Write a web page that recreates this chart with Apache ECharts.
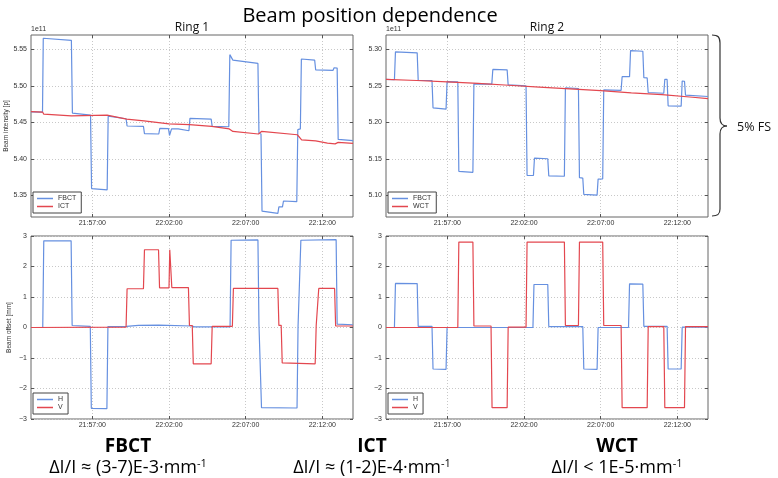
<!DOCTYPE html>
<html><head><meta charset="utf-8">
<script src="https://cdn.jsdelivr.net/npm/echarts@6/dist/echarts.min.js"></script>
<style>html,body{margin:0;padding:0;background:#fff}#c{width:778px;height:478px}</style>
</head><body><div id="c"></div>
<script>
// ---------- data ----------
const xTickLabels = ['21:57:00', '22:02:00', '22:07:00', '22:12:00'];
const xRange = ['21:53:00', '22:14:00'];
const r1IntTicks = [5.35, 5.40, 5.45, 5.50, 5.55];
const r1IntRange = [5.32, 5.57];
const r2IntTicks = [5.10, 5.15, 5.20, 5.25, 5.30];
const r2IntRange = [5.07, 5.32];
const offTicks = [-3, -2, -1, 0, 1, 2, 3];

const r1FBCT = [
 ['21:53:00',5.4645],['21:53:45',5.4640],['21:53:48',5.5655],['21:55:38',5.5627],['21:55:42',5.4627],
 ['21:56:53',5.4600],['21:56:57',5.3590],['21:57:58',5.3573],['21:58:02',5.4585],['21:59:12',5.4550],
 ['21:59:16',5.4450],['22:00:20',5.4445],['22:00:24',5.4345],['22:01:20',5.4340],['22:01:24',5.4418],
 ['22:01:58',5.4415],['22:02:02',5.4320],['22:02:06',5.4320],['22:02:10',5.4410],['22:02:36',5.4410],
 ['22:02:40',5.4385],['22:03:18',5.4385],['22:03:22',5.4555],['22:04:45',5.4545],['22:04:49',5.4445],
 ['22:05:54',5.4440],['22:05:58',5.5430],['22:06:05',5.5425],['22:06:10',5.5355],['22:07:48',5.5310],
 ['22:07:52',5.4350],['22:08:00',5.4340],['22:08:04',5.3280],['22:09:06',5.3250],['22:09:10',5.3340],
 ['22:09:24',5.3340],['22:09:28',5.3420],['22:10:20',5.3410],['22:10:24',5.4400],['22:10:34',5.4410],
 ['22:10:38',5.5370],['22:11:30',5.5355],['22:11:34',5.5220],['22:12:42',5.5215],['22:12:46',5.5250],
 ['22:12:58',5.5245],['22:13:02',5.4265],['22:14:00',5.4250]
];
const r1ICT = [
 ['21:53:00',5.4648],['21:53:46',5.4640],['21:53:50',5.4612],['21:55:38',5.4590],['21:55:42',5.4605],
 ['21:57:58',5.4600],['21:58:02',5.4580],['21:59:14',5.4545],['22:00:22',5.4520],['22:02:00',5.4480],
 ['22:03:20',5.4470],['22:04:47',5.4445],['22:05:56',5.4410],['22:06:10',5.4375],['22:07:50',5.4340],
 ['22:08:02',5.4375],['22:10:22',5.4330],['22:10:39',5.4260],['22:11:34',5.4245],['22:12:20',5.4215],
 ['22:12:50',5.4205],['22:13:02',5.4225],['22:14:00',5.4210]
];
const r2FBCT = [
 ['21:53:00',5.2590],['21:53:33',5.2585],['21:53:37',5.2968],['21:55:02',5.2955],['21:55:06',5.2577],
 ['21:56:00',5.2575],['21:56:04',5.2200],['21:56:55',5.2182],['21:56:59',5.2560],['21:57:41',5.2555],
 ['21:57:45',5.1327],['21:58:40',5.1314],['21:58:44',5.2530],['21:59:54',5.2525],['21:59:58',5.2727],
 ['22:00:54',5.2722],['22:00:58',5.2514],['22:02:08',5.2500],['22:02:12',5.1273],['22:02:37',5.1270],
 ['22:02:41',5.1510],['22:03:33',5.1500],['22:03:37',5.1264],['22:04:38',5.1260],['22:04:42',5.2473],
 ['22:05:33',5.2465],['22:05:37',5.1240],['22:05:50',5.1235],['22:05:54',5.1010],['22:06:46',5.1000],
 ['22:06:50',5.1220],['22:07:08',5.1225],['22:07:12',5.2445],['22:08:20',5.2440],['22:08:24',5.2627],
 ['22:08:53',5.2627],['22:08:57',5.2986],['22:09:45',5.2977],['22:09:49',5.2614],['22:10:02',5.2610],
 ['22:10:06',5.2410],['22:11:07',5.2400],['22:11:11',5.2590],['22:11:20',5.2590],['22:11:24',5.2227],
 ['22:12:15',5.2222],['22:12:19',5.2568],['22:12:28',5.2565],['22:12:32',5.2373],['22:14:00',5.2355]
];
const r2WCT = [
 ['21:53:00',5.2590],['21:55:00',5.2575],['21:57:00',5.2555],['21:59:00',5.2535],['22:01:00',5.2510],
 ['22:03:00',5.2485],['22:05:00',5.2460],['22:07:00',5.2435],['22:09:00',5.2405],['22:11:00',5.2380],
 ['22:13:00',5.2345],['22:14:00',5.2327]
];
const r1H = [
 ['21:53:00',0.00],['21:53:46',0.00],['21:53:50',2.84],['21:55:37',2.84],['21:55:41',0.065],
 ['21:56:52',0.04],['21:56:56',-2.65],['21:57:57',-2.66],['21:58:01',0.03],['21:59:14',0.04],
 ['22:00:00',0.07],['22:01:20',0.08],['22:03:30',0.05],['22:03:40',0.02],['22:05:59',0.02],
 ['22:06:03',2.86],['22:07:48',2.87],['22:07:52',0.11],['22:07:58',0.11],['22:08:02',-2.63],
 ['22:10:21',-2.64],['22:10:25',0.05],['22:10:32',0.05],['22:10:36',2.86],['22:12:54',2.88],
 ['22:12:58',0.11],['22:14:00',0.09]
];
const r1V = [
 ['21:53:00',0.00],['21:59:12',0.01],['21:59:16',1.27],['22:00:20',1.27],['22:00:24',2.55],
 ['22:01:19',2.55],['22:01:23',1.30],['22:02:00',1.30],['22:02:03',2.55],['22:02:08',2.55],
 ['22:02:11',1.31],['22:03:16',1.31],['22:03:20',0.065],['22:03:31',0.065],['22:03:35',-1.19],
 ['22:04:45',-1.19],['22:04:49',0.04],['22:06:08',0.04],['22:06:12',1.28],['22:09:06',1.28],
 ['22:09:10',0.07],['22:09:19',0.07],['22:09:23',-1.16],['22:11:32',-1.19],['22:11:36',0.065],
 ['22:11:42',0.065],['22:11:46',1.28],['22:12:48',1.28],['22:12:52',0.05],['22:14:00',0.05]
];
const r2H = [
 ['21:53:00',0.00],['21:53:33',0.00],['21:53:37',1.445],['21:55:02',1.44],['21:55:06',0.04],
 ['21:56:00',0.04],['21:56:04',-1.36],['21:56:55',-1.37],['21:56:59',0.00],['22:02:35',0.00],
 ['22:02:39',1.41],['22:03:33',1.41],['22:03:37',0.03],['22:05:50',0.03],['22:05:54',-1.36],
 ['22:06:46',-1.37],['22:06:50',0.00],['22:08:49',0.00],['22:08:53',1.43],['22:09:45',1.42],
 ['22:09:49',0.04],['22:11:20',0.04],['22:11:24',-1.36],['22:12:15',-1.36],['22:12:19',0.01],
 ['22:14:00',0.01]
];
const r2V = [
 ['21:53:00',0.00],['21:57:41',0.00],['21:57:45',2.80],['21:58:40',2.80],['21:58:44',0.05],
 ['21:59:51',0.05],['21:59:55',-2.63],['22:00:54',-2.63],['22:00:58',0.01],['22:02:08',0.01],
 ['22:02:12',2.80],['22:04:38',2.80],['22:04:42',0.065],['22:05:33',0.065],['22:05:37',2.80],
 ['22:07:08',2.80],['22:07:12',0.065],['22:08:20',0.065],['22:08:24',-2.63],['22:10:02',-2.63],
 ['22:10:06',0.03],['22:11:07',0.03],['22:11:11',-2.63],['22:12:28',-2.63],['22:12:32',0.03],
 ['22:14:00',0.03]
];

// ---------- helpers ----------
function tm(s){ const p = s.split(':').map(Number); return p[0]*60 + p[1] + p[2]/60; }
function conv(arr){ return arr.map(d => [tm(d[0]), d[1]]); }
function fmtT(v){ const m = Math.round(v); const h = Math.floor(m/60), mm = m%60;
  return String(h).padStart(2,'0') + ':' + String(mm).padStart(2,'0') + ':00'; }

const BLUE = '#6690e0', RED = '#e3474f';
const FONT = 'Liberation Sans';
const xTickVals = xTickLabels.map(tm);

const L1 = 31, L2 = 386, W = 322;
const T1 = 35, H1 = 182, T2 = 236, H2 = 183;
const grids = [
  {left:L1, top:T1, width:W, height:H1},
  {left:L2, top:T1, width:W, height:H1},
  {left:L1, top:T2, width:W, height:H2},
  {left:L2, top:T2, width:W, height:H2}
].map(g => Object.assign(g, {show:true, borderColor:'#666', borderWidth:1, backgroundColor:'#fff'}));

function xAx(i, mirror){
  return {type:'value', gridIndex:i, min:tm(xRange[0]), max:tm(xRange[1]),
    position: mirror ? 'top' : 'bottom',
    axisLine:{show:false, onZero:false},
    axisTick:{show:true, inside:true, length:3, lineStyle:{color:'#555'}, customValues:xTickVals},
    axisLabel:{show:!mirror, customValues:xTickVals, formatter:fmtT, fontSize:7, fontFamily:FONT, color:'#333', margin:3},
    splitLine:{show:!mirror, lineStyle:{color:'#c8c8c8', type:[1,2], width:1}}};
}
function yAx(i, range, ticks, dec, name, mirror){
  return {type:'value', gridIndex:i, min:range[0], max:range[1],
    position: mirror ? 'right' : 'left',
    name: mirror ? '' : (name || ''), nameLocation:'middle', nameGap:18,
    nameTextStyle:{fontSize:6.5, fontFamily:FONT, color:'#333'},
    axisLine:{show:false, onZero:false},
    axisTick:{show:true, inside:true, length:3, lineStyle:{color:'#555'}, customValues:ticks},
    axisLabel:{show:!mirror, customValues:ticks, fontSize:7, fontFamily:FONT, color:'#333', margin:4,
      formatter: v => (v < 0 ? '\u2212' + Math.abs(v).toFixed(dec) : v.toFixed(dec))},
    splitLine:{show:!mirror, lineStyle:{color:'#c8c8c8', type:[1,2], width:1}}};
}

function ser(name, data, color, i){
  return {name, type:'line', data:conv(data), xAxisIndex:i, yAxisIndex:i, showSymbol:false,
    symbol:'none', color, lineStyle:{color, width:1.2}, animation:false, silent:true};
}

function leg(left, top, names){
  return {left, top, orient:'vertical', data:names, icon:'rect', itemWidth:16, itemHeight:1.5,
    itemGap:1, padding:[3,5,3,4], borderColor:'#444', borderWidth:1, backgroundColor:'#fff',
    textStyle:{fontSize:7, fontFamily:FONT, color:'#333'}, selectedMode:false};
}

const BS = {stroke:'#333', lineWidth:1.2, fill:null};
const braceParts = [
  {type:'bezierCurve', shape:{x1:712,y1:35,cpx1:718,cpy1:35,cpx2:720,cpy2:37,x2:720,y2:43}, style:BS},
  {type:'line', shape:{x1:720,y1:43,x2:720,y2:118}, style:BS},
  {type:'bezierCurve', shape:{x1:720,y1:118,cpx1:720,cpy1:123,cpx2:722,cpy2:126,x2:727,y2:126}, style:BS},
  {type:'bezierCurve', shape:{x1:727,y1:126,cpx1:722,cpy1:126,cpx2:720,cpy2:129,x2:720,y2:134}, style:BS},
  {type:'line', shape:{x1:720,y1:134,x2:720,y2:209}, style:BS},
  {type:'bezierCurve', shape:{x1:720,y1:209,cpx1:720,cpy1:214,cpx2:718,cpy2:216,x2:712,y2:216}, style:BS}
];

const RICH = {n:{fontSize:18, fontFamily:'Open Sans', fill:'#000'}, s:{fontSize:11, fontFamily:'Open Sans', fill:'#000', verticalAlign:'top', padding:[0,0,9,0]}};

const offRange = [offTicks[0], offTicks[offTicks.length-1]];
const option = {
  backgroundColor:'#fff',
  animation:false,
  grid: grids,
  xAxis:[xAx(0), xAx(1), xAx(2), xAx(3), xAx(0,true), xAx(1,true), xAx(2,true), xAx(3,true)],
  yAxis:[
    yAx(0, r1IntRange, r1IntTicks, 2, 'Beam intensity [p]'),
    yAx(1, r2IntRange, r2IntTicks, 2),
    yAx(2, offRange, offTicks, 0, 'Beam offset [mm]'),
    yAx(3, offRange, offTicks, 0),
    yAx(0, r1IntRange, r1IntTicks, 2, '', true),
    yAx(1, r2IntRange, r2IntTicks, 2, '', true),
    yAx(2, offRange, offTicks, 0, '', true),
    yAx(3, offRange, offTicks, 0, '', true)
  ],
  legend:[
    leg(33, 192, ['FBCT','ICT']),
    leg(388, 192, ['FBCT','WCT']),
    leg(33, 393, ['H','V']),
    leg(388, 393, ['H','V'])
  ],
  series:[
    ser('FBCT', r1FBCT, BLUE, 0), ser('ICT', r1ICT, RED, 0),
    ser('FBCT', r2FBCT, BLUE, 1), ser('WCT', r2WCT, RED, 1),
    ser('H', r1H, BLUE, 2), ser('V', r1V, RED, 2),
    ser('H', r2H, BLUE, 3), ser('V', r2V, RED, 3)
  ],
  graphic:[
    {type:'text', x:370, y:16, style:{text:'Beam position dependence', fontSize:20, fontFamily:'Open Sans', fill:'#000', align:'center', verticalAlign:'middle'}},
    {type:'text', x:192, y:28, style:{text:'Ring 1', fontSize:12, fontFamily:'Open Sans', fill:'#111', align:'center', verticalAlign:'middle'}},
    {type:'text', x:547, y:28, style:{text:'Ring 2', fontSize:12, fontFamily:'Open Sans', fill:'#111', align:'center', verticalAlign:'middle'}},
    {type:'text', x:31, y:33, style:{text:'1e11', fontSize:7, fontFamily:FONT, fill:'#333', align:'left', verticalAlign:'bottom'}},
    {type:'text', x:386, y:33, style:{text:'1e11', fontSize:7, fontFamily:FONT, fill:'#333', align:'left', verticalAlign:'bottom'}},
    ...braceParts,
    {type:'text', x:737, y:127, style:{text:'5% FS', fontSize:12.5, fontFamily:'Open Sans', fill:'#111', align:'left', verticalAlign:'middle'}},
    {type:'text', x:128, y:447, style:{text:'FBCT', fontSize:19, fontWeight:'bold', fontFamily:'Open Sans', fill:'#000', align:'center', verticalAlign:'middle'}},
    {type:'text', x:372, y:447, style:{text:'ICT', fontSize:19, fontWeight:'bold', fontFamily:'Open Sans', fill:'#000', align:'center', verticalAlign:'middle'}},
    {type:'text', x:617, y:447, style:{text:'WCT', fontSize:19, fontWeight:'bold', fontFamily:'Open Sans', fill:'#000', align:'center', verticalAlign:'middle'}},
    {type:'text', x:128, y:468, style:{text:'{n|\u0394I/I \u2248 (3-7)E-3\u00b7mm}{s|-1}', align:'center', verticalAlign:'middle', rich:RICH}},
    {type:'text', x:372, y:468, style:{text:'{n|\u0394I/I \u2248 (1-2)E-4\u00b7mm}{s|-1}', align:'center', verticalAlign:'middle', rich:RICH}},
    {type:'text', x:617, y:468, style:{text:'{n|\u0394I/I < 1E-5\u00b7mm}{s|-1}', align:'center', verticalAlign:'middle', rich:RICH}}
  ]
};
const chart = echarts.init(document.getElementById('c'), null, {renderer:'canvas'});
chart.setOption(option);
</script></body></html>
